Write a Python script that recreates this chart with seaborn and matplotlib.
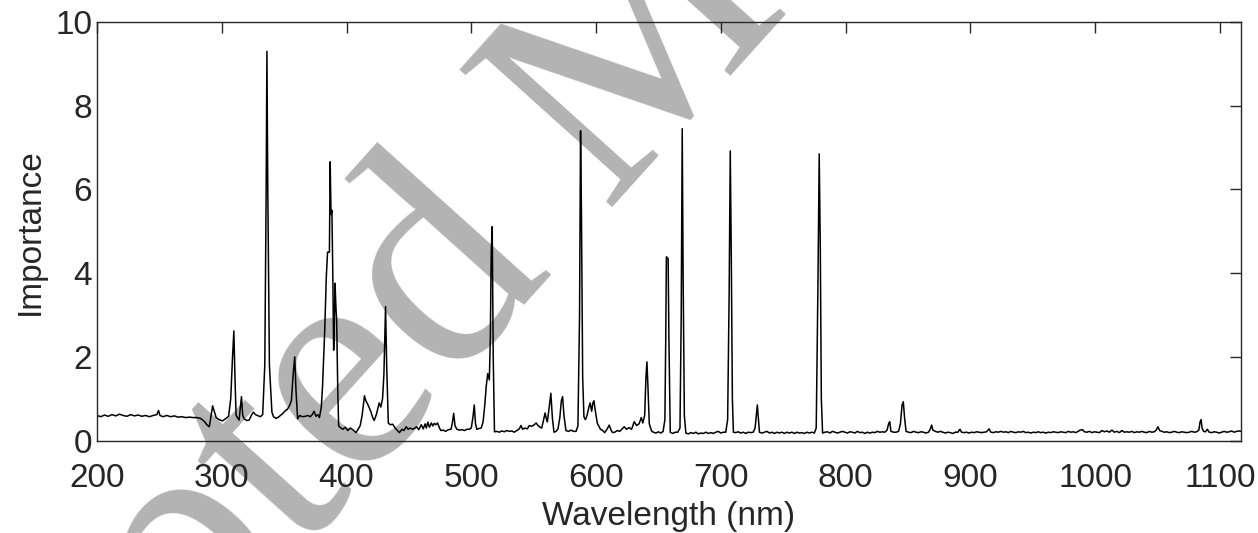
import numpy as np
import pandas as pd
import seaborn as sns
import matplotlib.pyplot as plt

# (wavelength nm, importance), split by region
uv_200_300 = [
    (200, 0.60), (203, 0.57), (206, 0.61), (209, 0.58), (212, 0.62), (215, 0.59),
    (218, 0.63), (221, 0.60), (224, 0.58), (227, 0.62), (230, 0.59), (233, 0.61),
    (236, 0.58), (239, 0.60), (242, 0.57), (245, 0.60), (248, 0.62), (249.3, 0.72),
    (250.5, 0.60), (253, 0.57), (256, 0.60), (259, 0.57), (262, 0.59), (265, 0.56),
    (268, 0.57), (271, 0.55), (274, 0.56), (277, 0.55), (280, 0.55), (283, 0.53),
    (286, 0.46), (288, 0.38), (290, 0.33), (291.5, 0.60), (292.7, 0.83), (294, 0.70),
    (295.5, 0.55), (298, 0.50),
]
uv_300_400 = [
    (300.5, 0.47), (303, 0.52), (305.5, 0.58), (307.2, 1.0), (308.5, 1.9), (309.7, 2.62),
    (310.6, 1.5), (311.5, 0.6), (313.9, 0.49), (315.0, 0.8), (315.8, 1.05), (316.8, 0.6),
    (318, 0.52), (320, 0.48), (322, 0.49), (324, 0.62), (325.4, 0.68), (327, 0.62),
    (328.5, 0.60), (331, 0.57), (332.8, 0.62), (334.5, 1.8), (335.6, 6.0), (336.2, 9.3),
    (336.9, 6.0), (338.2, 1.8), (340.2, 0.68), (341.5, 0.57), (343.5, 0.53), (345.5, 0.56),
    (347, 0.60), (348.7, 0.64), (350.5, 0.70), (352.7, 0.75), (354.5, 0.85), (355.8, 0.95),
    (357.3, 1.6), (358.5, 2.0), (359.5, 1.2), (360.8, 0.52), (362.5, 0.60), (364.5, 0.57),
    (367, 0.58), (369, 0.60), (371, 0.57), (372.5, 0.62), (374, 0.70), (375.5, 0.58),
    (377, 0.62), (378.3, 0.55), (379.8, 0.8), (380.8, 1.3), (382.5, 2.6), (383.8, 3.9),
    (384.8, 4.5), (386.3, 4.5), (386.9, 6.66), (387.6, 5.4), (388.3, 5.5), (389.0, 4.0),
    (389.7, 2.16), (390.4, 3.0), (390.8, 3.76), (391.5, 3.2), (392.1, 2.88), (393.0, 1.2),
    (393.7, 0.35), (395.5, 0.30), (397, 0.27), (399, 0.32),
]
vis_400_520 = [
    (401, 0.24), (403, 0.30), (405, 0.26), (407.6, 0.19), (409.5, 0.28), (411, 0.36),
    (412.5, 0.6), (414.4, 1.07), (415.5, 0.95), (416.8, 0.88), (418, 0.8), (419.4, 0.7),
    (421, 0.55), (422.2, 0.48), (423.9, 0.62), (425, 0.75), (426.2, 0.9), (427.5, 0.8),
    (428.9, 1.0), (430, 1.6), (431.3, 3.2), (432.2, 1.8), (433.5, 0.42), (435, 0.38),
    (437, 0.39), (439, 0.30), (440.5, 0.25), (442.4, 0.19), (444.5, 0.27), (446, 0.24),
    (447.8, 0.33), (449.5, 0.27), (451, 0.30), (453, 0.27), (454.5, 0.29), (456, 0.33),
    (458, 0.26), (459.9, 0.38), (461.5, 0.28), (463, 0.40), (464, 0.30), (465.2, 0.44),
    (466.5, 0.32), (468, 0.42), (469.2, 0.35), (470.3, 0.41), (471.5, 0.38), (473, 0.42),
    (474.5, 0.30), (475.7, 0.24), (477.5, 0.25), (479.5, 0.22), (481.5, 0.26), (483.8, 0.27),
    (485, 0.45), (485.9, 0.65), (487, 0.35), (488.5, 0.27), (490.5, 0.25), (492.5, 0.26),
    (494.5, 0.24), (496.5, 0.27), (498.4, 0.27), (500, 0.30), (501.3, 0.55), (502.4, 0.85),
    (503.4, 0.40), (504.5, 0.27), (506.5, 0.29), (508, 0.30), (509.5, 0.45), (511, 0.9),
    (512, 1.3), (513.2, 1.6), (514.5, 1.45), (515.3, 2.5), (516.0, 4.5), (516.8, 5.11),
    (517.6, 2.0), (518.6, 0.21),
]
vis_520_700 = [
    (520.5, 0.22), (522.5, 0.20), (524.5, 0.23), (526.5, 0.21), (528.5, 0.24), (530.5, 0.22),
    (532.5, 0.23), (534.5, 0.20), (536.5, 0.24), (538.5, 0.28), (539.8, 0.36), (541.2, 0.27),
    (543, 0.30), (545, 0.28), (546.5, 0.36), (548.5, 0.34), (550.5, 0.38), (552, 0.42),
    (553.5, 0.36), (555, 0.32), (556.5, 0.30), (558, 0.50), (559.2, 0.66), (560.2, 0.52),
    (561, 0.45), (562.5, 0.8), (563.8, 1.13), (565, 0.55), (566.3, 0.20), (568, 0.22),
    (569.5, 0.28), (571, 0.55), (572.2, 0.95), (573.2, 1.05), (574.3, 0.6), (575.9, 0.24),
    (578, 0.22), (580, 0.25), (582, 0.22), (584, 0.22), (585.5, 0.35), (586.8, 3.0),
    (587.6, 7.4), (588.3, 5.5), (589.3, 1.5), (590.3, 0.57), (591.5, 0.50), (592.8, 0.6),
    (594.3, 0.8), (595.3, 0.9), (596.5, 0.7), (597.5, 0.9), (598.3, 0.95), (599.5, 0.7),
    (601.0, 0.42), (603.5, 0.27), (605, 0.25), (607, 0.19), (609, 0.28), (610.6, 0.37),
    (612, 0.25), (613.3, 0.19), (615, 0.20), (617, 0.24), (619, 0.22), (621, 0.28),
    (622.6, 0.33), (624.5, 0.27), (626.5, 0.31), (628.5, 0.27), (630.6, 0.45), (632.5, 0.36),
    (634.5, 0.40), (636.3, 0.55), (637.5, 0.42), (639, 0.6), (640.0, 1.5), (640.8, 1.88),
    (641.6, 1.3), (642.7, 0.4), (644.5, 0.23), (646, 0.20), (648, 0.18), (650, 0.21),
    (652, 0.18), (653.8, 0.22), (655.2, 0.5), (655.9, 2.5), (656.4, 4.39), (657.8, 4.35),
    (658.4, 2.5), (659.5, 0.20), (661.5, 0.17), (663.5, 0.20), (665.5, 0.20), (667.3, 0.3),
    (668.3, 3.0), (669.1, 7.45), (669.8, 4.0), (670.8, 0.6), (672, 0.18), (674, 0.16),
    (676, 0.19), (678, 0.17), (680, 0.20), (682, 0.16), (684, 0.18), (686, 0.17),
    (688, 0.20), (690, 0.17), (692, 0.19), (694, 0.17), (696, 0.20), (698, 0.22),
]
red_700_850 = [
    (700, 0.18), (702, 0.20), (704, 0.20), (705.5, 0.5), (706.7, 3.5), (707.6, 6.92),
    (708.4, 4.5), (709.3, 1.0), (710.1, 0.20), (712, 0.19), (714, 0.21), (716, 0.18),
    (718, 0.20), (720, 0.17), (722, 0.20), (724, 0.19), (726, 0.20), (727.5, 0.3),
    (728.5, 0.6), (729.3, 0.85), (730.2, 0.5), (731, 0.20), (733, 0.18), (735, 0.20),
    (737, 0.22), (739, 0.18), (741, 0.20), (743, 0.17), (745, 0.20), (747, 0.18),
    (749, 0.20), (751, 0.17), (753, 0.20), (755, 0.18), (757, 0.20), (759, 0.17),
    (761, 0.20), (763, 0.18), (765, 0.19), (767, 0.17), (769, 0.20), (771, 0.18),
    (773, 0.20), (775, 0.18), (776.5, 0.3), (777.8, 3.5), (778.9, 6.85), (779.8, 4.5),
    (780.6, 1.0), (781.6, 0.18), (783.5, 0.20), (785.5, 0.21), (787.5, 0.18), (789.5, 0.22),
    (791.5, 0.20), (793.5, 0.18), (795.5, 0.20), (797.5, 0.22), (799.5, 0.20), (801.5, 0.18),
    (803.5, 0.21), (805.5, 0.20), (807.5, 0.18), (809.5, 0.22), (811.5, 0.19), (813.5, 0.20),
    (815.5, 0.17), (817.5, 0.20), (819.5, 0.18), (821.5, 0.20), (823.5, 0.19), (825.5, 0.22),
    (827.5, 0.20), (829.5, 0.21), (831.5, 0.20), (833.3, 0.25), (834.5, 0.4), (835.4, 0.45),
    (836.4, 0.22), (838.5, 0.20), (840.5, 0.20), (842.5, 0.22), (844, 0.4), (845.3, 0.85),
    (846.3, 0.93), (847.3, 0.55), (848.5, 0.22),
]
nir_850_1117 = [
    (850.5, 0.20), (852.5, 0.19), (854.5, 0.22), (856.5, 0.20), (858.5, 0.19), (860.5, 0.21),
    (862.5, 0.20), (864.5, 0.18), (866.5, 0.20), (868, 0.28), (869, 0.37), (870, 0.25),
    (872, 0.22), (874, 0.20), (876, 0.22), (878, 0.20), (880, 0.18), (882, 0.20),
    (884, 0.19), (886, 0.17), (888, 0.20), (890, 0.20), (891.7, 0.27), (893, 0.20),
    (895, 0.19), (897, 0.20), (899, 0.18), (901, 0.20), (903, 0.19), (905, 0.21),
    (907, 0.20), (909, 0.19), (911, 0.20), (913, 0.21), (915, 0.28), (916.5, 0.20),
    (918.5, 0.19), (920.5, 0.21), (922.5, 0.20), (924.5, 0.22), (926.5, 0.20), (928.5, 0.21),
    (930.5, 0.19), (932.5, 0.22), (934.5, 0.20), (936.5, 0.19), (938.5, 0.21), (940.5, 0.20),
    (942.5, 0.22), (944.5, 0.19), (946.5, 0.20), (948.5, 0.18), (950.5, 0.20), (952.5, 0.19),
    (954.5, 0.21), (956.5, 0.19), (958.5, 0.20), (960.5, 0.18), (962.5, 0.20), (964.5, 0.19),
    (966.5, 0.21), (968.5, 0.20), (970.5, 0.19), (972.5, 0.21), (974.5, 0.20), (976.5, 0.19),
    (978.5, 0.22), (980.5, 0.20), (982.5, 0.21), (984.5, 0.19), (986.5, 0.22), (988, 0.25),
    (990, 0.26), (991.5, 0.21), (993.5, 0.20), (995.5, 0.22), (997.5, 0.19), (999.5, 0.21),
    (1001.5, 0.20), (1003.5, 0.19), (1005.5, 0.24), (1007.5, 0.21), (1009.5, 0.23), (1011.5, 0.20),
    (1013.5, 0.25), (1015.5, 0.20), (1017.5, 0.22), (1019.5, 0.19), (1021.5, 0.24), (1023.5, 0.20),
    (1025.5, 0.21), (1027.5, 0.20), (1029.5, 0.22), (1031.5, 0.19), (1033.5, 0.21), (1035.5, 0.20),
    (1037.5, 0.22), (1039.5, 0.20), (1041.5, 0.19), (1043.5, 0.22), (1045.5, 0.20), (1047.5, 0.21),
    (1049, 0.25), (1050.4, 0.33), (1051.8, 0.24), (1053.5, 0.22), (1055.5, 0.20), (1057.5, 0.21),
    (1059.5, 0.19), (1061.5, 0.20), (1063.5, 0.22), (1065.5, 0.20), (1067.5, 0.19), (1069.5, 0.21),
    (1071.5, 0.20), (1073.5, 0.19), (1075.5, 0.20), (1077.5, 0.22), (1079.5, 0.20), (1081.5, 0.21),
    (1083.2, 0.25), (1084.2, 0.45), (1085, 0.5), (1085.8, 0.3), (1087, 0.22), (1088.5, 0.21),
    (1090, 0.27), (1091.5, 0.20), (1093.5, 0.19), (1095.5, 0.21), (1097.5, 0.20), (1099.5, 0.18),
    (1101.5, 0.20), (1103.5, 0.22), (1105.5, 0.20), (1107.5, 0.21), (1109.5, 0.23), (1111.5, 0.20),
    (1113.5, 0.22), (1115.5, 0.23), (1117, 0.22),
]

x_ticks = [200, 300, 400, 500, 600, 700, 800, 900, 1000, 1100]
y_ticks = [0, 2, 4, 6, 8, 10]

spectrum = pd.DataFrame(
    uv_200_300 + uv_300_400 + vis_400_520 + vis_520_700 + red_700_850 + nir_850_1117,
    columns=['wavelength', 'importance'])

sns.set_style('white')
plt.rcParams['font.family'] = ['Liberation Sans', 'DejaVu Sans']

fig = plt.figure(figsize=(12.58, 5.33), dpi=100)
ax = fig.add_axes([0.0771, 0.1734, 0.9094, 0.7853])
ax.patch.set_alpha(0)

# watermark behind the axes
fig.text(0.482, 0.81, 'Accepted Manuscript', rotation=48, rotation_mode='anchor',
         ha='center', va='center', fontsize=225, color='#b3b3b3',
         family='Liberation Serif', zorder=-1)

sns.lineplot(data=spectrum, x='wavelength', y='importance', ax=ax,
             color='black', linewidth=1.1, estimator=None, sort=False)

ax.set_xlim(200, 1117)
ax.set_ylim(0, 10)
ax.set_xticks(x_ticks)
ax.set_yticks(y_ticks)
ax.set_xlabel('Wavelength (nm)', fontsize=24, color='#262626', labelpad=5)
ax.set_ylabel('Importance', fontsize=24, color='#262626', labelpad=7)
ax.tick_params(direction='in', length=8, width=1, colors='#262626',
               labelsize=24, top=True, right=True, labeltop=False, labelright=False)
ax.tick_params(axis='x', pad=16)
for s in ax.spines.values():
    s.set_color('#262626')
    s.set_linewidth(1)

fig.savefig('out.png', dpi=100)
